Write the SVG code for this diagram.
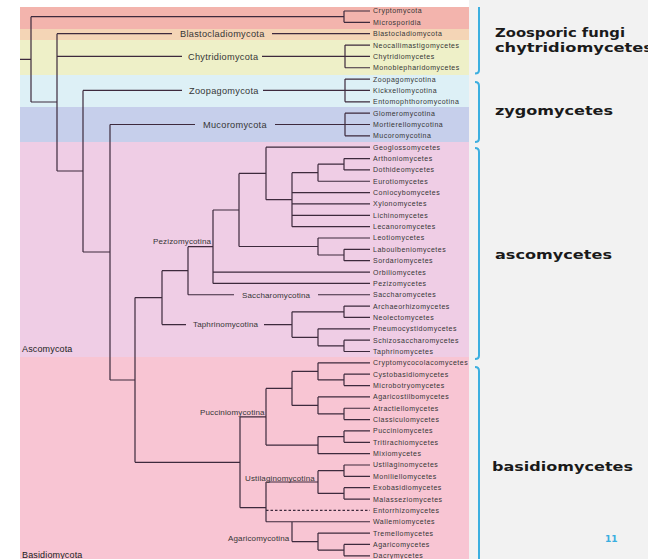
<svg xmlns="http://www.w3.org/2000/svg" width="648" height="559" viewBox="0 0 648 559">
<style>
.t{font-family:"Liberation Sans",Arial,sans-serif;fill:#363636}
.lf{font-size:7px;letter-spacing:0.5px}
.g{font-size:9.2px;letter-spacing:0.3px}
.s{font-size:8px;letter-spacing:0.15px}
.p{font-size:9px;letter-spacing:0.15px;fill:#222}
.big{font-family:"DejaVu Sans",Verdana,sans-serif;font-weight:bold;font-size:13px;fill:#1a1a1a}
.br{fill:none;stroke:#3cafe0;stroke-width:2}
.ln{fill:none;stroke:#3d2a3d;stroke-width:1.2}
.ds{fill:none;stroke:#3d2a3d;stroke-width:1.2;stroke-dasharray:2.5 2}
</style>
<rect x="0" y="0" width="648" height="559" fill="#f2f2f2"/>
<rect x="0" y="0" width="469" height="559" fill="#ffffff"/>
<g id="bands">
<rect x="20" y="7" width="449" height="22" fill="#f3b4ad"/>
<rect x="20" y="29" width="449" height="11" fill="#f4d5b6"/>
<rect x="20" y="40" width="449" height="35" fill="#eef0c8"/>
<rect x="20" y="75" width="449" height="32" fill="#ddf0f6"/>
<rect x="20" y="107" width="449" height="35" fill="#c6cfeb"/>
<rect x="20" y="142" width="449" height="215" fill="#efcde5"/>
<rect x="20" y="357" width="449" height="202" fill="#f8c5d3"/>
</g>
<g id="connectors">
<path class="ln" d="M20 59.3H31 M31 16.7V102 M31 16.7H344 M344 11V22.35 M344 11H370 M344 22.35H370
M31 102H57 M57 33.7V171 M57 33.7H172 M272 33.7H370
M57 56.4H182 M262 56.4H345 M345 45.05V67.75 M345 45.05H370 M345 56.4H370 M345 67.75H370
M57 171H83 M83 90.45V252 M83 90.45H182 M263 90.45H345 M345 79.1V101.8 M345 79.1H370 M345 90.45H370 M345 101.8H370
M83 252H110 M110 124.5V380 M110 124.5H195 M275 124.5H345 M345 113.15V135.85 M345 113.15H370 M345 124.5H370 M345 135.85H370
M110 380H135 M135 297.6V462.3
M135 297.6H162 M162 270.7V324.55 M162 324.55H186 M264 324.55H292
M162 270.7H188 M188 246.7V294.75 M188 294.75H234 M318 294.75H370
M188 246.7H213 M213 210V283.4 M213 272.05H370 M213 283.4H370
M213 210H239 M239 173.45V246.5
M239 173.45H266 M266 147.2V199.7 M266 147.2H370
M266 199.7H292 M292 172.7V226.65 M292 192.6H370 M292 203.95H370 M292 215.3H370 M292 226.65H370
M292 172.7H318 M318 164.2V181.25 M318 181.25H370 M318 164.2H344 M344 158.55V169.9 M344 158.55H370 M344 169.9H370
M239 246.5H318 M318 238V255 M318 238H370 M318 255H344 M344 249.35V260.7 M344 249.35H370 M344 260.7H370
M292 311.8V337.3 M292 311.8H344 M344 306.1V317.45 M344 306.1H370 M344 317.45H370 M292 337.3H318 M318 328.8V345.8 M318 328.8H370 M318 345.8H344 M344 340.15V351.5 M344 340.15H370 M344 351.5H370
M135 462.3H240 M240 416.8V507.7
M240 416.8H266 M266 388.4V445.1
M266 388.4H292 M292 371.4V405.4 M292 371.4H318 M318 362.85V379.9 M318 362.85H370 M318 379.9H344 M344 374.2V385.55 M344 374.2H370 M344 385.55H370
M292 405.4H318 M318 396.9V413.9 M318 396.9H370 M318 413.9H344 M344 408.25V419.6 M344 408.25H370 M344 419.6H370
M266 445.1H318 M318 436.6V453.65 M318 453.65H370 M318 436.6H344 M344 430.95V442.3 M344 430.95H370 M344 442.3H370
M240 507.7H266 M266 482V521.75
M266 482H318 M318 470.7V493.4 M318 470.7H344 M344 465V476.35 M344 465H370 M344 476.35H370 M318 493.4H344 M344 487.7V499.05 M344 487.7H370 M344 499.05H370
M266 521.75H370 M292 521.75V541.6 M292 541.6H318 M318 533.1V550.1 M318 533.1H370 M318 550.1H344 M344 544.45V555.8 M344 544.45H370 M344 555.8H370"/>
<path class="ds" d="M266 510.4H370"/>
</g>
<g id="brackets">
<path class="br" d="M479 7V70 Q479 73.5 475 73.5"/>
<path class="br" d="M475 82 Q479 82 479 86V138.5 Q479 142 475 142"/>
<path class="br" d="M475 148 Q479 148 479 152V355.5 Q479 359 475 359"/>
<path class="br" d="M475 367 Q479 367 479 371V560"/>
</g>
<g id="phyla">
<g id="n-blastocladiomycota"><text class="t g" x="180" y="37">Blastocladiomycota</text></g>
<g id="n-chytridiomycota"><text class="t g" x="188" y="59.7">Chytridiomycota</text></g>
<g id="n-zoopagomycota"><text class="t g" x="189" y="93.7">Zoopagomycota</text></g>
<g id="n-mucoromycota"><text class="t g" x="203" y="127.8">Mucoromycota</text></g>
<g id="n-pezizomycotina"><text class="t s" x="153" y="243.8">Pezizomycotina</text></g>
<g id="n-saccharomycotina"><text class="t s" x="242" y="297.5">Saccharomycotina</text></g>
<g id="n-taphrinomycotina"><text class="t s" x="193" y="327.3">Taphrinomycotina</text></g>
<g id="n-pucciniomycotina"><text class="t s" x="200" y="414.5">Pucciniomycotina</text></g>
<g id="n-ustilaginomycotina"><text class="t s" x="245" y="480.5">Ustilaginomycotina</text></g>
<g id="n-agaricomycotina"><text class="t s" x="228" y="541">Agaricomycotina</text></g>
<g id="n-ascomycota"><text class="t p" x="22" y="352">Ascomycota</text></g>
<g id="n-basidiomycota"><text class="t p" x="22" y="558">Basidiomycota</text></g>
</g>
<g id="leaves" class="t lf">
<g id="l0"><text x="373" y="13.4">Cryptomycota</text></g>
<g id="l1"><text x="373" y="24.8">Microsporidia</text></g>
<g id="l2"><text x="373" y="36.1">Blastocladiomycota</text></g>
<g id="l3"><text x="373" y="47.5">Neocallimastigomycetes</text></g>
<g id="l4"><text x="373" y="58.8">Chytridiomycetes</text></g>
<g id="l5"><text x="373" y="70.2">Monoblepharidomycetes</text></g>
<g id="l6"><text x="373" y="81.5">Zoopagomycotina</text></g>
<g id="l7"><text x="373" y="92.9">Kickxellomycotina</text></g>
<g id="l8"><text x="373" y="104.2">Entomophthoromycotina</text></g>
<g id="l9"><text x="373" y="115.6">Glomeromycotina</text></g>
<g id="l10"><text x="373" y="126.9">Mortierellomycotina</text></g>
<g id="l11"><text x="373" y="138.3">Mucoromycotina</text></g>
<g id="l12"><text x="373" y="149.6">Geoglossomycetes</text></g>
<g id="l13"><text x="373" y="161">Arthoniomycetes</text></g>
<g id="l14"><text x="373" y="172.3">Dothideomycetes</text></g>
<g id="l15"><text x="373" y="183.7">Eurotiomycetes</text></g>
<g id="l16"><text x="373" y="195">Coniocybomycetes</text></g>
<g id="l17"><text x="373" y="206.4">Xylonomycetes</text></g>
<g id="l18"><text x="373" y="217.7">Lichinomycetes</text></g>
<g id="l19"><text x="373" y="229.1">Lecanoromycetes</text></g>
<g id="l20"><text x="373" y="240.4">Leotiomycetes</text></g>
<g id="l21"><text x="373" y="251.8">Laboulbeniomycetes</text></g>
<g id="l22"><text x="373" y="263.1">Sordariomycetes</text></g>
<g id="l23"><text x="373" y="274.5">Orbiliomycetes</text></g>
<g id="l24"><text x="373" y="285.8">Pezizomycetes</text></g>
<g id="l25"><text x="373" y="297.2">Saccharomycetes</text></g>
<g id="l26"><text x="373" y="308.5">Archaeorhizomycetes</text></g>
<g id="l27"><text x="373" y="319.9">Neolectomycetes</text></g>
<g id="l28"><text x="373" y="331.2">Pneumocystidomycetes</text></g>
<g id="l29"><text x="373" y="342.6">Schizosaccharomycetes</text></g>
<g id="l30"><text x="373" y="353.9">Taphrinomycetes</text></g>
<g id="l31"><text x="373" y="365.3">Cryptomycocolacomycetes</text></g>
<g id="l32"><text x="373" y="376.6">Cystobasidiomycetes</text></g>
<g id="l33"><text x="373" y="388">Microbotryomycetes</text></g>
<g id="l34"><text x="373" y="399.3">Agaricostilbomycetes</text></g>
<g id="l35"><text x="373" y="410.7">Atractiellomycetes</text></g>
<g id="l36"><text x="373" y="422">Classiculomycetes</text></g>
<g id="l37"><text x="373" y="433.4">Pucciniomycetes</text></g>
<g id="l38"><text x="373" y="444.7">Tritirachiomycetes</text></g>
<g id="l39"><text x="373" y="456.1">Mixiomycetes</text></g>
<g id="l40"><text x="373" y="467.4">Ustilaginomycetes</text></g>
<g id="l41"><text x="373" y="478.8">Moniliellomycetes</text></g>
<g id="l42"><text x="373" y="490.1">Exobasidiomycetes</text></g>
<g id="l43"><text x="373" y="501.5">Malasseziomycetes</text></g>
<g id="l44"><text x="373" y="512.8">Entorrhizomycetes</text></g>
<g id="l45"><text x="373" y="524.2">Wallemiomycetes</text></g>
<g id="l46"><text x="373" y="535.5">Tremellomycetes</text></g>
<g id="l47"><text x="373" y="546.9">Agaricomycetes</text></g>
<g id="l48"><text x="373" y="558.2">Dacrymycetes</text></g>
</g>
<g id="groups">
<g id="g-zoosporic"><text class="big" x="495" y="37" textLength="130" lengthAdjust="spacingAndGlyphs">Zoosporic fungi</text><text class="big" x="495" y="52" textLength="158" lengthAdjust="spacingAndGlyphs">chytridiomycetes</text></g>
<g id="g-zygo"><text class="big" x="495" y="115" textLength="118" lengthAdjust="spacingAndGlyphs">zygomycetes</text></g>
<g id="g-asco"><text class="big" x="495" y="258.5" textLength="117" lengthAdjust="spacingAndGlyphs">ascomycetes</text></g>
<g id="g-basidio"><text class="big" x="492" y="470.5" textLength="141" lengthAdjust="spacingAndGlyphs">basidiomycetes</text></g>
<g id="page"><text x="605" y="542" style="font-family:'DejaVu Sans',sans-serif;font-weight:bold;font-size:9px;fill:#3aaee0">11</text></g>
</g>
</svg>
